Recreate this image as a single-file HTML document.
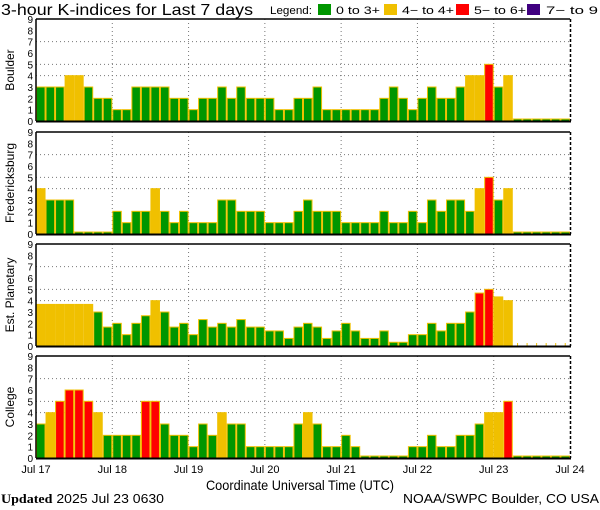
<!DOCTYPE html>
<html><head><meta charset="utf-8">
<style>
body{margin:0;background:#fff;}
svg{display:block;font-family:"Liberation Sans",sans-serif;}
</style></head>
<body>
<svg id="chart" width="600" height="510" viewBox="0 0 600 510" xmlns="http://www.w3.org/2000/svg">
<text x="1" y="15" font-size="16" fill="#000" textLength="252" lengthAdjust="spacingAndGlyphs">3-hour K-indices for Last 7 days</text>
<g font-size="11">
<text x="270" y="14" textLength="42" lengthAdjust="spacingAndGlyphs">Legend:</text>
<rect x="318" y="4" width="13" height="11" fill="#009600"/>
<text x="336" y="14" textLength="44" lengthAdjust="spacingAndGlyphs">0 to 3+</text>
<rect x="384" y="4" width="13" height="11" fill="#f0c000"/>
<text x="402" y="14" textLength="52" lengthAdjust="spacingAndGlyphs">4− to 4+</text>
<rect x="456" y="4" width="13" height="11" fill="#ff0000"/>
<text x="474" y="14" textLength="52" lengthAdjust="spacingAndGlyphs">5− to 6+</text>
<rect x="527" y="4" width="13" height="11" fill="#400080"/>
<text x="546" y="14" textLength="52" lengthAdjust="spacingAndGlyphs">7− to 9</text>
</g>
<g id="panels"></g>
<g font-size="11" text-anchor="middle" id="xaxis"></g>
<text x="300" y="490" font-size="14" text-anchor="middle" textLength="188" lengthAdjust="spacingAndGlyphs">Coordinate Universal Time (UTC)</text>
<text x="1" y="503" font-size="13" textLength="163" lengthAdjust="spacingAndGlyphs"><tspan font-family="Liberation Serif" font-weight="bold">Updated</tspan> 2025 Jul 23 0630</text>
<text x="599" y="503" font-size="13" text-anchor="end" textLength="196" lengthAdjust="spacingAndGlyphs">NOAA/SWPC Boulder, CO USA</text>
</svg>
<script>
const dayLabels = ["Jul 17","Jul 18","Jul 19","Jul 20","Jul 21","Jul 22","Jul 23","Jul 24"];
const yTicks = [0,1,2,3,4,5,6,7,8,9];
const stationNames = ["Boulder","Fredericksburg","Est. Planetary","College"];
const boulder = [3,3,3,4,4,3,2,2, 1,1,3,3,3,3,2,2, 1,2,2,3,2,3,2,2, 2,1,1,2,2,3,1,1, 1,1,1,1,2,3,2,1, 2,3,2,2,3,4,4,5, 3,4,0,0,0,0,0,0];
const fredericksburg = [4,3,3,3,0,0,0,0, 2,1,2,2,4,2,1,2, 1,1,1,3,3,2,2,2, 1,1,1,2,3,2,2,2, 1,1,1,1,2,1,1,2, 1,3,2,3,3,2,4,5, 3,4,0,0,0,0,0,0];
const planetary = [3.67,3.67,3.67,3.67,3.67,3.67,3,1.67, 2,1,2,2.67,4,3,1.67,2, 1,2.33,1.67,2,1.67,2.33,1.67,1.67, 1.33,1.33,0.67,1.67,2,1.67,0.67,1.33, 2,1.33,0.67,0.67,1.33,0.33,0.33,1, 1,2,1.33,2,2,3,4.67,5, 4.33,4,null,null,null,null,null,null];
const college = [3,4,5,6,6,5,4,2, 2,2,2,5,5,3,2,2, 1,3,2,4,3,3,1,1, 1,1,1,3,4,3,1,1, 2,1,0,0,0,0,0,1, 1,2,1,1,2,2,3,4, 4,5,0,0,0,0,0,0];
const series = [boulder, fredericksburg, planetary, college];

const NS="http://www.w3.org/2000/svg";
const X0=36, X1=570, N=56, PANEL_H=102;
const panelTops=[19,132,244,356];
const bw=(X1-X0)/N;
function xScale(i){return X0+i*bw;}
function yScale(v,top){return top+PANEL_H-v*(PANEL_H/9);}
function color(v){return v>=6.5?"#400080":v>=4.5?"#ff0000":v>=3.5?"#f0c000":"#009600";}
function mk(tag,attrs,parent){const e=document.createElementNS(NS,tag);for(const k in attrs)e.setAttribute(k,attrs[k]);parent.appendChild(e);return e;}
const panels=document.getElementById('panels');
series.forEach((data,p)=>{
  const top=panelTops[p], bot=top+PANEL_H;
  const g=mk('g',{},panels);
  
  
  [4,5,7].forEach(v=>{const l=mk('line',{x1:X0,x2:X1,y1:yScale(v,top),y2:yScale(v,top),stroke:"#777","stroke-dasharray":"1,3"},g);
    
    });
  for(let d=1;d<7;d++){const x=xScale(d*8);const l=mk('line',{x1:x,x2:x,y1:top,y2:bot,stroke:"#777","stroke-dasharray":"1,3"},g);
    
    }
  data.forEach((v,i)=>{
    if(v===null){const t=mk('line',{x1:xScale(i)+bw/2,x2:xScale(i)+bw/2,y1:bot-3,y2:bot-0.5,stroke:"#f0c000"},g);
      
      return;}
    const h=Math.max(v*(PANEL_H/9),2);
    const r=mk('rect',{x:xScale(i)+0.5,y:bot-h,width:bw-1,height:h,fill:color(v),stroke:"#f0c000","stroke-width":1},g);
    
    
  });
  mk('line',{x1:X0,x2:X1,y1:top,y2:top,stroke:"#000","stroke-width":1.5},g);
  mk('line',{x1:X0,x2:X0,y1:top,y2:bot,stroke:"#000","stroke-width":1.5},g);
  mk('line',{x1:X0,x2:X1+1,y1:bot+0.5,y2:bot+0.5,stroke:"#000","stroke-width":2},g);
  mk('line',{x1:X1+0.5,x2:X1+0.5,y1:top,y2:bot,stroke:"#000","stroke-width":1.5,"stroke-dasharray":"3,2"},g);
  yTicks.forEach(v=>{const t=mk('text',{x:33,y:yScale(v,top)+4,"font-size":10,"text-anchor":"end"},g);t.textContent=v;
    
    });
  const cy=top+PANEL_H/2;
  const lab=mk('text',{x:0,y:0,"font-size":12,"text-anchor":"middle",transform:`translate(14,${cy}) rotate(-90)`},g);
  lab.textContent=stationNames[p];
  
  
});
const xa=document.getElementById('xaxis');
dayLabels.forEach((d,k)=>{const t=mk('text',{x:xScale(k*8),y:473},xa);t.textContent=d;
  
  });
</script>
</body></html>
